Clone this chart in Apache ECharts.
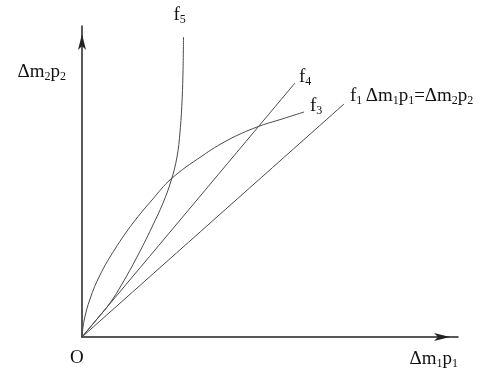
<!DOCTYPE html>
<html>
<head>
<meta charset="utf-8">
<script src="https://cdn.jsdelivr.net/npm/echarts@6/dist/echarts.min.js"></script>
<style>html,body{margin:0;padding:0;background:#fff}#c{width:500px;height:391px}</style>
</head>
<body>
<div id="c"></div>
<script>
// Curves (arbitrary units, origin at O)
var f1Data = [[0, 0], [262, 233]];
var f4Data = [[0, 0], [213, 254]];
var f3Data = [[0, 0], [2, 16], [8, 38], [18, 62], [33, 88], [51, 114], [70, 137], [89, 158], [120, 181], [146, 197], [175, 210], [200, 218], [222, 225]];
var f5Data = [[0, 0], [15, 18], [28, 34], [40, 53], [55, 80], [70, 110], [81, 134], [89, 156], [95, 180], [98, 205], [100, 235], [101, 265], [101.5, 300]];
var xMax = 376, yMax = 311;

var serif = '"Liberation Serif", "DejaVu Serif", serif';
var subRich = {
  m: { fontSize: 19, fontFamily: serif, color: '#111' },
  s: { fontSize: 12, fontFamily: serif, color: '#111', padding: [9, 0, 0, 0] }
};

function lineSeries(name, data, labelFmt, offset) {
  return {
    type: 'line', name: name, data: data, smooth: 0.4, symbol: 'none',
    lineStyle: { color: '#4a4a4a', width: 1 },
    endLabel: { show: true, formatter: labelFmt, rich: subRich, offset: offset, distance: 0 },
    emphasis: { disabled: true }, silent: true
  };
}

var chart = echarts.init(document.getElementById('c'));
chart.setOption({
  animation: false,
  grid: { left: 82, top: 26, width: 376, height: 311 },
  xAxis: {
    type: 'value', min: 0, max: xMax,
    axisLine: { show: true, symbol: ['none', 'arrow'], symbolSize: [6, 16], symbolOffset: [0, -8], lineStyle: { color: '#222', width: 1.5 } },
    axisTick: { show: false }, axisLabel: { show: false }, splitLine: { show: false },
    name: '{m|Δm}{s|1}{m|p}{s|1}', nameLocation: 'end', nameGap: 0,
    nameTextStyle: { rich: subRich, align: 'right', verticalAlign: 'top', padding: [12, 0, 0, 0] }
  },
  yAxis: {
    type: 'value', min: 0, max: yMax,
    axisLine: { show: true, symbol: ['none', 'arrow'], symbolSize: [6, 16], symbolOffset: [0, -8], lineStyle: { color: '#222', width: 1.5 } },
    axisTick: { show: false }, axisLabel: { show: false }, splitLine: { show: false },
    name: '{m|Δm}{s|2}{m|p}{s|2}', nameLocation: 'end', nameGap: 0,
    nameTextStyle: { rich: subRich, align: 'right', verticalAlign: 'top', padding: [36, 16, 0, 0] }
  },
  graphic: [{
    type: 'text', left: 70, top: 349,
    style: { text: 'O', font: '19px ' + serif, fill: '#111' }
  }],
  series: [
    lineSeries('f1', f1Data, '{m|f}{s|1} {m|Δm}{s|1}{m|p}{s|1}{m|=Δm}{s|2}{m|p}{s|2}', [6, -8]),
    lineSeries('f4', f4Data, '{m|f}{s|4}', [4, -6]),
    lineSeries('f3', f3Data, '{m|f}{s|3}', [6, -6]),
    lineSeries('f5', f5Data, '{m|f}{s|5}', [-10, -22])
  ]
});
</script>
</body>
</html>
